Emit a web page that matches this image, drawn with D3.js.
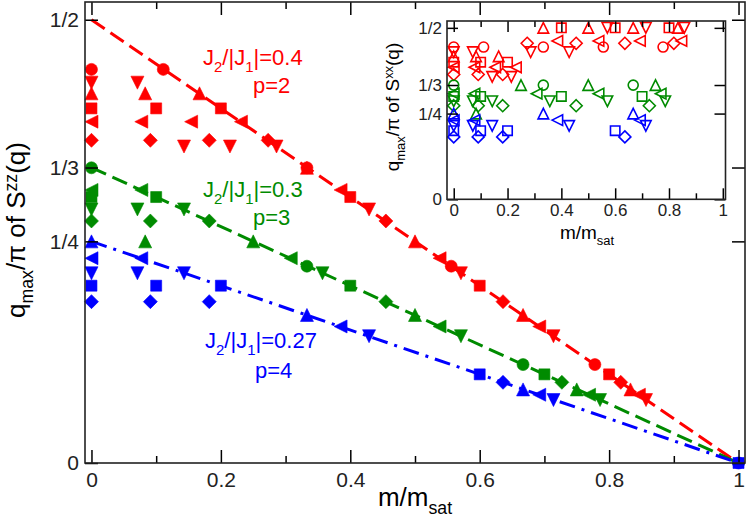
<!DOCTYPE html>
<html>
<head>
<meta charset="utf-8">
<script src="https://cdn.jsdelivr.net/npm/d3@7"></script>
<style>
body { margin: 0; background: #fff; }
svg { font-family: "Liberation Sans", Arial, Helvetica, sans-serif; }
</style>
</head>
<body>
<svg id="chart" width="747" height="527"></svg>
<script>
// tick values / labels
var xMajor = [0, 0.2, 0.4, 0.6, 0.8, 1]
var xMinor = [0.1, 0.3, 0.5, 0.7, 0.9]
var xTickLabels = ["0", "0.2", "0.4", "0.6", "0.8", "1"]
var yMajor = [0, 0.25, 0.3333, 0.5]
var yTickLabels = ["0", "1/4", "1/3", "1/2"]

// guide lines q = (1-m)/p
var redLine = [[0, 0.5], [1, 0]]
var greenLine = [[0, 0.3333], [1, 0]]
var blueLine = [[0, 0.25], [1, 0]]

// main panel, S^zz  [m/msat, qmax/pi]
var zzRedCircle = [[0, 0.444], [0.111, 0.444], [0.333, 0.333], [0.556, 0.222], [0.778, 0.111]]
var zzRedSquare = [[0, 0.4], [0.1, 0.4], [0.2, 0.4], [0.4, 0.3], [0.6, 0.2], [0.8, 0.1]]
var zzRedDiamond = [[0, 0.364], [0.091, 0.364], [0.182, 0.364], [0.273, 0.364], [0.455, 0.273], [0.636, 0.182], [0.818, 0.091]]
var zzRedUp = [[0, 0.417], [0.083, 0.417], [0.167, 0.417], [0.333, 0.333], [0.5, 0.25], [0.667, 0.167], [0.833, 0.083]]
var zzRedLeft = [[0, 0.385], [0.077, 0.385], [0.154, 0.385], [0.231, 0.385], [0.385, 0.308], [0.538, 0.231], [0.692, 0.154], [0.846, 0.077]]
var zzRedDown = [[0, 0.429], [0.071, 0.429], [0.143, 0.357], [0.214, 0.357], [0.286, 0.357], [0.429, 0.286], [0.571, 0.214], [0.714, 0.143], [0.857, 0.071]]

var zzGreenCircle = [[0, 0.333], [0.333, 0.222], [0.667, 0.111]]
var zzGreenSquare = [[0, 0.3], [0.1, 0.3], [0.4, 0.2], [0.7, 0.1]]
var zzGreenDiamond = [[0, 0.273], [0.091, 0.273], [0.182, 0.273], [0.455, 0.182], [0.727, 0.091]]
var zzGreenUp = [[0.083, 0.25], [0.25, 0.25], [0.5, 0.167], [0.75, 0.083]]
var zzGreenLeft = [[0, 0.308], [0.077, 0.308], [0.308, 0.231], [0.538, 0.154], [0.769, 0.077]]
var zzGreenDown = [[0, 0.286], [0.071, 0.286], [0.143, 0.286], [0.357, 0.214], [0.571, 0.143], [0.786, 0.071]]

var zzBlueCircle = [[1, 0]]
var zzBlueSquare = [[0, 0.2], [0.1, 0.2], [0.2, 0.2], [0.6, 0.1], [1, 0]]
var zzBlueDiamond = [[0, 0.182], [0.091, 0.182], [0.182, 0.182], [0.636, 0.091]]
var zzBlueUp = [[0, 0.25], [0.333, 0.167], [0.667, 0.083]]
var zzBlueLeft = [[0, 0.231], [0.077, 0.231], [0.385, 0.154], [0.692, 0.077]]
var zzBlueDown = [[0, 0.214], [0.071, 0.214], [0.143, 0.214], [0.429, 0.143], [0.714, 0.071]]

// inset, S^xx
var xxRedCircle = [[0, 0.444], [0.111, 0.444], [0.333, 0.444], [0.556, 0.444], [0.778, 0.444]]
var xxRedSquare = [[0, 0.4], [0.1, 0.4], [0.2, 0.4], [0.4, 0.5], [0.6, 0.5], [0.8, 0.5]]
var xxRedDiamond = [[0, 0.364], [0.091, 0.364], [0.182, 0.364], [0.273, 0.455], [0.455, 0.455], [0.636, 0.455], [0.818, 0.455]]
var xxRedUp = [[0, 0.417], [0.083, 0.417], [0.167, 0.417], [0.333, 0.5], [0.5, 0.5], [0.667, 0.5], [0.833, 0.5]]
var xxRedLeft = [[0, 0.385], [0.077, 0.385], [0.154, 0.385], [0.231, 0.385], [0.385, 0.462], [0.538, 0.462], [0.692, 0.462], [0.846, 0.462]]
var xxRedDown = [[0, 0.429], [0.071, 0.429], [0.143, 0.357], [0.214, 0.357], [0.286, 0.429], [0.429, 0.429], [0.571, 0.5], [0.714, 0.5], [0.857, 0.5]]

var xxGreenCircle = [[0, 0.333], [0.333, 0.333], [0.667, 0.333]]
var xxGreenSquare = [[0, 0.3], [0.1, 0.3], [0.4, 0.3], [0.7, 0.3]]
var xxGreenDiamond = [[0, 0.273], [0.091, 0.273], [0.182, 0.273], [0.455, 0.273], [0.727, 0.273]]
var xxGreenUp = [[0.083, 0.25], [0.25, 0.333], [0.5, 0.333], [0.75, 0.333]]
var xxGreenLeft = [[0, 0.308], [0.077, 0.308], [0.308, 0.308], [0.538, 0.308], [0.769, 0.308]]
var xxGreenDown = [[0, 0.286], [0.071, 0.286], [0.143, 0.286], [0.357, 0.286], [0.571, 0.286], [0.786, 0.286]]

var xxBlueSquare = [[0, 0.2], [0.1, 0.2], [0.2, 0.2], [0.6, 0.2]]
var xxBlueDiamond = [[0, 0.182], [0.091, 0.182], [0.182, 0.182], [0.636, 0.182]]
var xxBlueUp = [[0, 0.25], [0.333, 0.25], [0.667, 0.25]]
var xxBlueLeft = [[0, 0.231], [0.077, 0.231], [0.385, 0.231], [0.692, 0.231]]
var xxBlueDown = [[0, 0.214], [0.071, 0.214], [0.143, 0.214], [0.429, 0.214], [0.714, 0.214]]

var RED = "#ff0000", GREEN = "#008b00", BLUE = "#0000ff"
var INK = "#222"

var svg = d3.select("#chart")

// main scales
var x = d3.scaleLinear().domain([-0.01, 1.01]).range([85, 745])
var y = d3.scaleLinear().domain([0, 0.52]).range([463, 2])
// inset scales
var xi = d3.scaleLinear().domain([-0.025, 1.01]).range([447, 725.5])
var yi = d3.scaleLinear().domain([0, 0.52]).range([199.3, 21])

function shapePath(shape, s) {
    if (shape == "circle") return d3.symbol(d3.symbolCircle, Math.PI * s * s)()
    if (shape == "square") return "M" + (-s) + "," + (-s) + "h" + 2 * s + "v" + 2 * s + "h" + (-2 * s) + "Z"
    if (shape == "diamond") return "M0," + (-s) + "L" + s + ",0L0," + s + "L" + (-s) + ",0Z"
    if (shape == "up") return "M0," + (-s) + "L" + s + "," + s + "L" + (-s) + "," + s + "Z"
    if (shape == "down") return "M0," + s + "L" + s + "," + (-s) + "L" + (-s) + "," + (-s) + "Z"
    if (shape == "left") return "M" + (-s) + ",0L" + s + "," + (-s) + "L" + s + "," + s + "Z"
}

// text with sub/superscripts
function rich(text, parts, size) {
    var off = 0
    parts.forEach(function (p) {
        var target = p[1] == "sub" ? 0.32 * size : (p[1] == "sup" ? -0.32 * size : 0)
        text.append("tspan")
            .attr("dy", target - off)
            .attr("font-size", p[1] ? size * 0.68 : size)
            .text(p[0])
        off = target
    })
}

function drawAxes(g, xs, ys, major, minor, fontSize, pad) {
    var x0 = xs.range()[0], x1 = xs.range()[1]
    var y0 = ys.range()[0], y1 = ys.range()[1]
    var clean = function (a) {
        a.select(".domain").remove()
        a.attr("font-family", null).attr("font-size", fontSize).attr("fill", INK)
        a.selectAll("line").attr("stroke-width", 1.5)
        a.selectAll("text").attr("fill", INK)
    }
    g.append("g").attr("transform", "translate(0," + y0 + ")")
        .call(d3.axisBottom(xs).tickValues(xMajor).tickFormat(function (d, i) { return xTickLabels[i] })
            .tickSize(-major).tickPadding(pad.x)).call(clean)
    g.append("g").attr("transform", "translate(0," + y0 + ")")
        .call(d3.axisBottom(xs).tickValues(xMinor).tickFormat("").tickSize(-minor)).call(clean)
    g.append("g").attr("transform", "translate(0," + y1 + ")")
        .call(d3.axisTop(xs).tickValues(xMajor).tickFormat("").tickSize(-major)).call(clean)
    g.append("g").attr("transform", "translate(0," + y1 + ")")
        .call(d3.axisTop(xs).tickValues(xMinor).tickFormat("").tickSize(-minor)).call(clean)
    g.append("g").attr("transform", "translate(" + x0 + ",0)")
        .call(d3.axisLeft(ys).tickValues(yMajor).tickFormat(function (d, i) { return yTickLabels[i] })
            .tickSize(-major).tickPadding(pad.y)).call(clean)
    g.append("g").attr("transform", "translate(" + x1 + ",0)")
        .call(d3.axisRight(ys).tickValues(yMajor).tickFormat("").tickSize(-major)).call(clean)
    g.append("rect")
        .attr("x", x0).attr("y", y1)
        .attr("width", x1 - x0).attr("height", y0 - y1)
        .attr("fill", "none").attr("stroke", INK).attr("stroke-width", 1.6)
}

function drawMarkers(g, xs, ys, data, color, shape, size, filled) {
    g.append("g").selectAll("path")
        .data(data)
        .enter()
        .append("path")
        .attr("transform", function (d) { return "translate(" + xs(d[0]) + "," + ys(d[1]) + ")" })
        .attr("d", shapePath(shape, size))
        .attr("fill", filled ? color : "none")
        .attr("stroke", color)
        .attr("stroke-width", filled ? 0.6 : 1.6)
}

// ---- main panel ----
var main = svg.append("g").attr("class", "main")

var line = d3.line()
    .x(function (d) { return x(d[0]) })
    .y(function (d) { return y(d[1]) })

main.append("path").datum(redLine).attr("d", line)
    .attr("fill", "none").attr("stroke", RED).attr("stroke-width", 3).attr("stroke-dasharray", "16,7")
main.append("path").datum(greenLine).attr("d", line)
    .attr("fill", "none").attr("stroke", GREEN).attr("stroke-width", 3).attr("stroke-dasharray", "16,7")
main.append("path").datum(blueLine).attr("d", line)
    .attr("fill", "none").attr("stroke", BLUE).attr("stroke-width", 3).attr("stroke-dasharray", "16,7,3,7")

var mainSize = { circle: 6, square: 5.5, diamond: 7, up: 6.5, left: 6.5, down: 6.5 }
var zzSets = [
    [zzRedCircle, RED, "circle"], [zzRedSquare, RED, "square"], [zzRedDiamond, RED, "diamond"],
    [zzRedUp, RED, "up"], [zzRedLeft, RED, "left"], [zzRedDown, RED, "down"],
    [zzGreenCircle, GREEN, "circle"], [zzGreenSquare, GREEN, "square"], [zzGreenDiamond, GREEN, "diamond"],
    [zzGreenUp, GREEN, "up"], [zzGreenLeft, GREEN, "left"], [zzGreenDown, GREEN, "down"],
    [zzBlueCircle, BLUE, "circle"], [zzBlueSquare, BLUE, "square"], [zzBlueDiamond, BLUE, "diamond"],
    [zzBlueUp, BLUE, "up"], [zzBlueLeft, BLUE, "left"], [zzBlueDown, BLUE, "down"]
]
zzSets.forEach(function (s) {
    drawMarkers(main, x, y, s[0], s[1], s[2], mainSize[s[2]], true)
})

drawAxes(main, x, y, 13, 7, 21, { x: 9, y: 6 })

// labels in main panel
rich(main.append("text").attr("x", 203).attr("y", 65).attr("fill", RED),
    [["J"], ["2", "sub"], ["/|J"], ["1", "sub"], ["|=0.4"]], 22)
main.append("text").attr("x", 253).attr("y", 93).attr("fill", RED).attr("font-size", 22).text("p=2")
rich(main.append("text").attr("x", 203).attr("y", 197).attr("fill", GREEN),
    [["J"], ["2", "sub"], ["/|J"], ["1", "sub"], ["|=0.3"]], 22)
main.append("text").attr("x", 253).attr("y", 225).attr("fill", GREEN).attr("font-size", 22).text("p=3")
rich(main.append("text").attr("x", 205).attr("y", 348).attr("fill", BLUE),
    [["J"], ["2", "sub"], ["/|J"], ["1", "sub"], ["|=0.27"]], 22)
main.append("text").attr("x", 255).attr("y", 378).attr("fill", BLUE).attr("font-size", 22).text("p=4")

rich(main.append("text").attr("x", 415).attr("y", 506).attr("text-anchor", "middle").attr("fill", "#000"),
    [["m/m"], ["sat", "sub"]], 26)
rich(main.append("text").attr("transform", "translate(25,230) rotate(-90)")
    .attr("text-anchor", "middle").attr("fill", "#000"),
    [["q"], ["max", "sub"], ["/\u03c0 of S"], ["zz", "sup"], ["(q)"]], 26)

// ---- inset ----
var inset = svg.append("g").attr("class", "inset")
inset.append("rect")
    .attr("x", xi.range()[0]).attr("y", yi.range()[1])
    .attr("width", xi.range()[1] - xi.range()[0]).attr("height", yi.range()[0] - yi.range()[1])
    .attr("fill", "#fff")

var insetSize = { circle: 5, square: 4.7, diamond: 6, up: 5.3, left: 5.3, down: 5.3 }
var xxSets = [
    [xxRedCircle, RED, "circle"], [xxRedSquare, RED, "square"], [xxRedDiamond, RED, "diamond"],
    [xxRedUp, RED, "up"], [xxRedLeft, RED, "left"], [xxRedDown, RED, "down"],
    [xxGreenCircle, GREEN, "circle"], [xxGreenSquare, GREEN, "square"], [xxGreenDiamond, GREEN, "diamond"],
    [xxGreenUp, GREEN, "up"], [xxGreenLeft, GREEN, "left"], [xxGreenDown, GREEN, "down"],
    [xxBlueSquare, BLUE, "square"], [xxBlueDiamond, BLUE, "diamond"],
    [xxBlueUp, BLUE, "up"], [xxBlueLeft, BLUE, "left"], [xxBlueDown, BLUE, "down"]
]
xxSets.forEach(function (s) {
    drawMarkers(inset, xi, yi, s[0], s[1], s[2], insetSize[s[2]], false)
})

drawAxes(inset, xi, yi, 11, 6, 17, { x: 5, y: 5 })

rich(inset.append("text").attr("x", 587).attr("y", 239).attr("text-anchor", "middle").attr("fill", "#000"),
    [["m/m"], ["sat", "sub"]], 19)
rich(inset.append("text").attr("transform", "translate(399,107) rotate(-90)")
    .attr("text-anchor", "middle").attr("fill", "#000"),
    [["q"], ["max", "sub"], ["/\u03c0 of S"], ["xx", "sup"], ["(q)"]], 19)
</script>
</body>
</html>
